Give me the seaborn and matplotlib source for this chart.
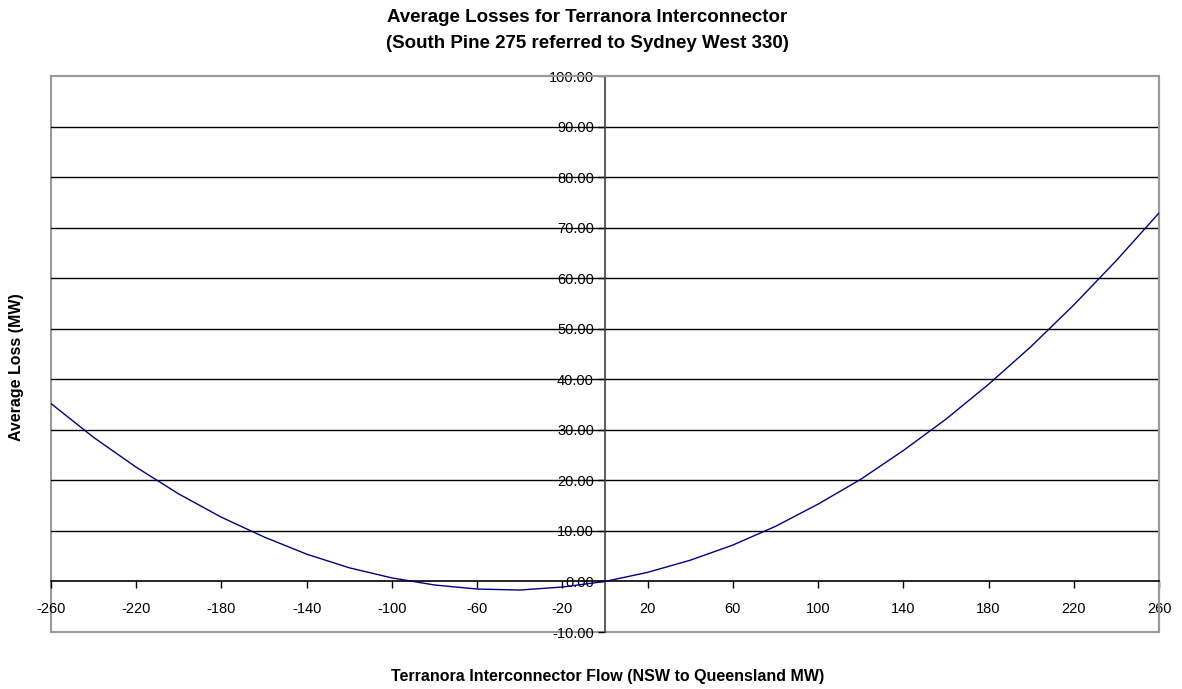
import matplotlib
matplotlib.use('Agg')
import matplotlib.pyplot as plt
import seaborn as sns
import pandas as pd
from matplotlib.patches import Rectangle

# flow (MW) and average loss (MW)
flow = [-260, -240, -220, -200, -180, -160, -140, -120, -100, -80, -60, -40, -20,
        0, 20, 40, 60, 80, 100, 120, 140, 160, 180, 200, 220, 240, 260]
loss = [35.2, 28.5, 22.6, 17.3, 12.7, 8.8, 5.4, 2.7, 0.7, -0.7, -1.5, -1.7, -1.1,
        0.0, 1.8, 4.2, 7.2, 10.9, 15.3, 20.2, 25.9, 32.1, 39.0, 46.5, 54.7, 63.5, 72.9]
x_ticks = [-260, -220, -180, -140, -100, -60, -20, 20, 60, 100, 140, 180, 220, 260]
y_ticks = [-10, 0, 10, 20, 30, 40, 50, 60, 70, 80, 90, 100]

df = pd.DataFrame({'flow': flow, 'loss': loss})

sns.set_style('white')
plt.rcParams['font.family'] = ['Liberation Sans', 'DejaVu Sans']
plt.rcParams['text.color'] = 'black'

fig = plt.figure(figsize=(11.82, 6.89), dpi=100)
ax = fig.add_axes([51/1182, 1-632/689, (1159-51)/1182, (632-76)/689])

# gridlines
for yv in y_ticks:
    if 0 < yv < 100:
        ax.axhline(yv, color='black', lw=1, zorder=1)

sns.lineplot(data=df, x='flow', y='loss', color='#000080', lw=1, ax=ax, zorder=3)

ax.set_xlim(-260, 260)
ax.set_ylim(-10, 100)

# axes crossing at zero
ax.spines['left'].set_position(('data', 0))
ax.spines['bottom'].set_position(('data', 0))
ax.spines['left'].set_color('#404040')
ax.spines['left'].set_linewidth(1.2)
ax.spines['bottom'].set_color('black')
ax.spines['bottom'].set_linewidth(1.2)
for s in ['top', 'right']:
    ax.spines[s].set_color('#9a9a9a')
    ax.spines[s].set_linewidth(1.5)
ax.add_patch(Rectangle((0, 0), 1, 1, transform=ax.transAxes, fill=False,
                       edgecolor='#9a9a9a', lw=1.5, zorder=0, clip_on=False))

ax.set_xticks(x_ticks)
ax.set_xticklabels([str(v) for v in x_ticks])
ax.set_yticks(y_ticks)
ax.set_yticklabels(['%.2f' % v for v in y_ticks])
ax.tick_params(axis='x', bottom=True, direction='out', length=5, width=1, pad=10,
               labelsize=10.5, colors='black')
ax.tick_params(axis='y', left=True, direction='out', length=5, width=1, pad=3,
               labelsize=10.5, colors='black')
ax.set_xlabel('')
ax.set_ylabel('')

fig.text(0.497, 1-17/689, 'Average Losses for Terranora Interconnector', ha='center', va='center',
         fontsize=13.5, fontweight='bold')
fig.text(0.497, 1-43/689, '(South Pine 275 referred to Sydney West 330)', ha='center', va='center',
         fontsize=13.5, fontweight='bold')
fig.text(608/1182, 1-677/689, 'Terranora Interconnector Flow (NSW to Queensland MW)', ha='center',
         va='center', fontsize=11.5, fontweight='bold')
fig.text(17/1182, 1-367/689, 'Average Loss (MW)', ha='center', va='center', rotation=90,
         fontsize=11.5, fontweight='bold')

plt.savefig('out.png', dpi=100)
